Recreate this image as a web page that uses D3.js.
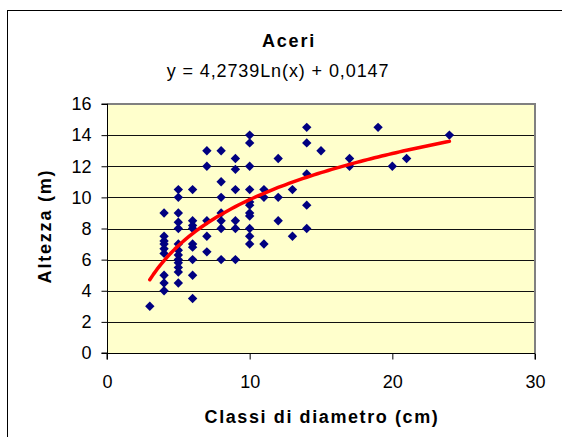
<!DOCTYPE html>
<html>
<head>
<meta charset="utf-8">
<script src="https://cdn.jsdelivr.net/npm/d3@7"></script>
<style>
  html, body { margin: 0; padding: 0; background: #fff; }
  svg { display: block; font-family: "Liberation Sans", Arial, sans-serif; }
</style>
</head>
<body>
<svg id="chart" width="562" height="437"></svg>
<script>
// ---- data ----
const title = "Aceri";
const equationLabel = "y = 4,2739Ln(x) + 0,0147";
const xTitle = "Classi di diametro (cm)";
const yTitle = "Altezza (m)";

const diam = [
  3,
  4, 4, 4, 4, 4, 4, 4, 4, 4,
  5, 5, 5, 5, 5, 5, 5, 5, 5, 5, 5, 5, 5,
  6, 6, 6, 6, 6, 6, 6, 6, 6,
  7, 7, 7, 7, 7,
  8, 8, 8, 8, 8, 8, 8,
  9, 9, 9, 9, 9, 9,
  10, 10, 10, 10, 10, 10, 10, 10, 10, 10, 10,
  11, 11, 11,
  12, 12, 12,
  13, 13,
  14, 14, 14, 14, 14,
  15,
  17, 17,
  19,
  20,
  21,
  24
];
const height = [
  3,
  9, 7.5, 7.2, 7, 6.7, 6.4, 5, 4.5, 4,
  10.5, 10, 9, 8.4, 8, 7, 6.6, 6.3, 6, 5.8, 5.5, 5.2, 4.5,
  10.5, 8.5, 8.2, 8, 7, 6.8, 6, 5, 3.5,
  13, 12, 8.5, 7.5, 6.5,
  13, 11, 10, 9, 8.5, 8, 6,
  12.5, 11.8, 10.5, 8.5, 8, 6,
  14, 13.5, 12, 10.5, 9.7, 9.5, 9, 8.8, 8, 7.5, 7,
  10.5, 10, 7,
  12.5, 10, 8.5,
  10.5, 7.5,
  14.5, 13.5, 11.5, 9.5, 8,
  13,
  12.5, 12,
  14.5,
  12,
  12.5,
  14
];
// logarithmic trendline coefficients (y = a*ln(x) + b) and its x range
const trendCoef = [4.2739, 0.0147];
const trendRange = [3, 24];

const xTicks = [0, 10, 20, 30];
const yTicks = [0, 2, 4, 6, 8, 10, 12, 14, 16];

// ---- layout ----
const svg = d3.select("#chart");
const plot = { left: 107, right: 535, top: 104, bottom: 353 };

const x = d3.scaleLinear().domain([0, 30]).range([plot.left, plot.right]);
const y = d3.scaleLinear().domain([0, 16]).range([plot.bottom, plot.top]);

// outer chart frame
svg.append("rect")
  .attr("x", 7.5).attr("y", 10.5)
  .attr("width", 600).attr("height", 500)
  .attr("fill", "#fff").attr("stroke", "#000").attr("stroke-width", 1);

// plot background
svg.append("rect")
  .attr("x", plot.left).attr("y", plot.top)
  .attr("width", plot.right - plot.left).attr("height", plot.bottom - plot.top)
  .attr("fill", "#FFFFCC");

// gridlines
svg.append("g").selectAll("line")
  .data(yTicks.filter(d => d > 0 && d < 16))
  .join("line")
  .attr("x1", plot.left).attr("x2", plot.right)
  .attr("y1", d => Math.round(y(d)) + 0.5).attr("y2", d => Math.round(y(d)) + 0.5)
  .attr("stroke", "#111").attr("stroke-width", 1.2);

// plot border (top/right grey)
svg.append("path")
  .attr("d", `M${plot.left},${plot.top} H${plot.right} V${plot.bottom}`)
  .attr("fill", "none").attr("stroke", "#808080").attr("stroke-width", 2);

// axes
const yAxis = d3.axisLeft(y).tickValues(yTicks).tickSize(6).tickPadding(10).tickFormat(d3.format("d"));
const xAxis = d3.axisBottom(x).tickValues(xTicks).tickSize(6).tickPadding(16).tickFormat(d3.format("d"));

const gy = svg.append("g").attr("transform", `translate(${plot.left + 0.5},0)`).call(yAxis);
const gx = svg.append("g").attr("transform", `translate(0,${plot.bottom + 0.5})`).call(xAxis);
[gx, gy].forEach(g => {
  g.select(".domain").attr("stroke", "#000").attr("stroke-width", 1);
  g.selectAll(".tick line").attr("stroke", "#000");
  g.selectAll(".tick text")
    .attr("fill", "#000")
    .style("font-family", '"Liberation Sans", Arial, sans-serif')
    .style("font-size", "18px");
});
gx.select(".domain").attr("d", `M${plot.left},6V0H${plot.right}V6`);
gy.select(".domain").attr("d", `M-6,${plot.top}H0V${plot.bottom}H-6`);

// data points (navy diamonds)
const diamond = d3.symbol().type(d3.symbolSquare).size(44);
svg.append("g").selectAll("path")
  .data(diam.map((d, i) => [d, height[i]]))
  .join("path")
  .attr("d", diamond)
  .attr("transform", d => `translate(${x(d[0])},${y(d[1])}) rotate(45)`)
  .attr("fill", "#000080");

// trendline
const trendXs = d3.range(trendRange[0], trendRange[1] + 0.001, 0.25);
const line = d3.line()
  .x(d => x(d))
  .y(d => y(trendCoef[0] * Math.log(d) + trendCoef[1]));
svg.append("path")
  .datum(trendXs)
  .attr("d", line)
  .attr("fill", "none")
  .attr("stroke", "#FF0000")
  .attr("stroke-width", 3.5)
  .attr("stroke-linejoin", "round")
  .attr("stroke-linecap", "round");

// texts
svg.append("text")
  .attr("x", 289).attr("y", 47)
  .attr("text-anchor", "middle")
  .style("font-size", "18px").style("font-weight", "bold")
  .style("letter-spacing", "1.8px")
  .text(title);

svg.append("text")
  .attr("x", 278).attr("y", 77)
  .attr("text-anchor", "middle")
  .style("font-size", "18px")
  .style("letter-spacing", "0.9px")
  .text(equationLabel);

svg.append("text")
  .attr("x", 322).attr("y", 423)
  .attr("text-anchor", "middle")
  .style("font-size", "18px").style("font-weight", "bold")
  .style("letter-spacing", "1.6px")
  .text(xTitle);

svg.append("text")
  .attr("transform", "translate(51,226) rotate(-90)")
  .attr("text-anchor", "middle")
  .style("font-size", "18px").style("font-weight", "bold")
  .style("letter-spacing", "1.8px")
  .text(yTitle);
</script>
</body>
</html>
